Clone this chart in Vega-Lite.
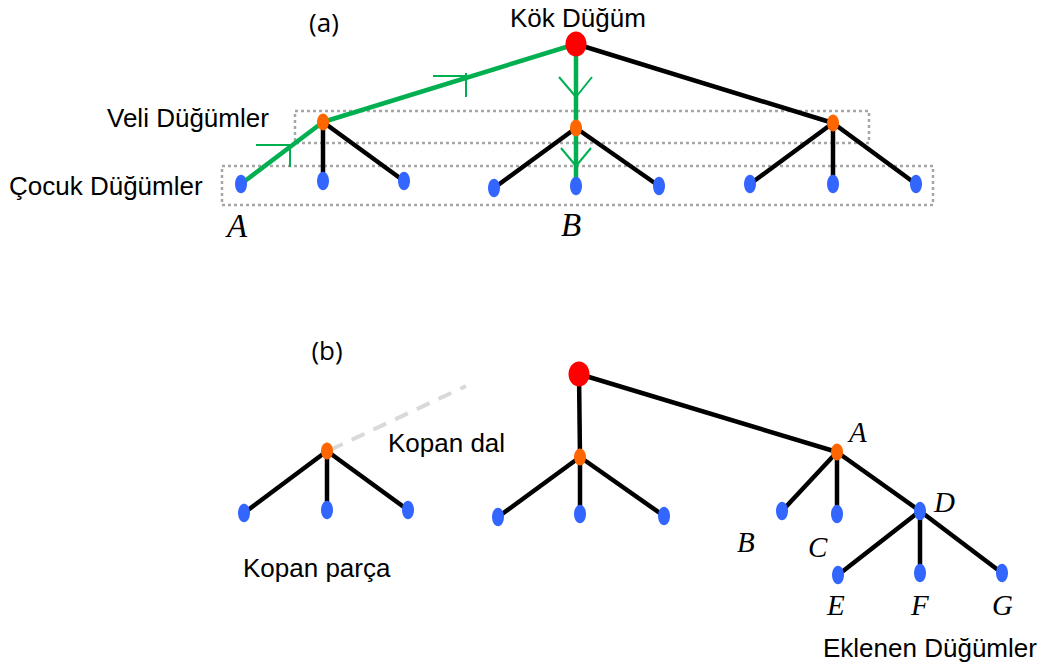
{
  "$schema": "https://vega.github.io/schema/vega-lite/v6.json",
  "width": 1049,
  "height": 669,
  "autosize": {"type": "fit", "contains": "padding"},
  "padding": 0,
  "background": "#ffffff",
  "config": {"view": {"stroke": null}},
  "datasets": {
    "boxes": [
      {"name": "veli", "x": 295, "y": 111, "x2": 869, "y2": 143},
      {"name": "cocuk", "x": 222, "y": 166, "x2": 933, "y2": 205}
    ],
    "edges": [
      {"x": 576, "y": 44, "x2": 833, "y2": 123},
      {"x": 323, "y": 122, "x2": 323, "y2": 181},
      {"x": 323, "y": 122, "x2": 404, "y2": 181},
      {"x": 576, "y": 128, "x2": 494, "y2": 188},
      {"x": 576, "y": 128, "x2": 659, "y2": 186},
      {"x": 833, "y": 123, "x2": 750, "y2": 184},
      {"x": 833, "y": 123, "x2": 833, "y2": 184},
      {"x": 833, "y": 123, "x2": 916, "y2": 184},
      {"x": 579, "y": 374, "x2": 580, "y2": 457},
      {"x": 579, "y": 374, "x2": 837, "y2": 452},
      {"x": 580, "y": 457, "x2": 498, "y2": 517},
      {"x": 580, "y": 457, "x2": 580, "y2": 514},
      {"x": 580, "y": 457, "x2": 664, "y2": 516},
      {"x": 327, "y": 451, "x2": 244, "y2": 513},
      {"x": 327, "y": 451, "x2": 327, "y2": 510},
      {"x": 327, "y": 451, "x2": 408, "y2": 510},
      {"x": 837, "y": 452, "x2": 782, "y2": 511},
      {"x": 837, "y": 452, "x2": 837, "y2": 514},
      {"x": 837, "y": 452, "x2": 920, "y2": 511},
      {"x": 920, "y": 511, "x2": 838, "y2": 575},
      {"x": 920, "y": 511, "x2": 920, "y2": 573},
      {"x": 920, "y": 511, "x2": 1002, "y2": 573}
    ],
    "paths": [
      {"x": 576, "y": 44, "x2": 323, "y2": 122},
      {"x": 323, "y": 122, "x2": 241, "y2": 184},
      {"x": 576, "y": 44, "x2": 576, "y2": 128},
      {"x": 576, "y": 128, "x2": 576, "y2": 186}
    ],
    "arrows": [
      {"x": 433, "y": 76, "x2": 467, "y2": 76},
      {"x": 466, "y": 73, "x2": 466, "y2": 97},
      {"x": 256, "y": 145, "x2": 290, "y2": 145},
      {"x": 290, "y": 145, "x2": 290, "y2": 167},
      {"x": 559, "y": 77, "x2": 576, "y2": 97},
      {"x": 592, "y": 77, "x2": 576, "y2": 97},
      {"x": 561, "y": 148, "x2": 576, "y2": 166},
      {"x": 591, "y": 148, "x2": 576, "y2": 166}
    ],
    "broken": [
      {"x": 330, "y": 450, "x2": 466, "y2": 386}
    ],
    "roots": [
      {"x": 576, "y": 44},
      {"x": 579, "y": 374}
    ],
    "parents": [
      {"x": 323, "y": 122},
      {"x": 576, "y": 128},
      {"x": 833, "y": 123},
      {"x": 327, "y": 451},
      {"x": 580, "y": 457},
      {"x": 837, "y": 452}
    ],
    "leaves": [
      {"x": 241, "y": 184}, {"x": 323, "y": 181}, {"x": 404, "y": 181},
      {"x": 494, "y": 188}, {"x": 576, "y": 186}, {"x": 659, "y": 186},
      {"x": 750, "y": 184}, {"x": 833, "y": 184}, {"x": 916, "y": 184},
      {"x": 244, "y": 513}, {"x": 327, "y": 510}, {"x": 408, "y": 510},
      {"x": 498, "y": 517}, {"x": 580, "y": 514}, {"x": 664, "y": 516},
      {"x": 782, "y": 511}, {"x": 837, "y": 514}, {"x": 920, "y": 511},
      {"x": 838, "y": 575}, {"x": 920, "y": 573}, {"x": 1002, "y": 573}
    ],
    "sansLabels": [
      {"x": 510, "y": 27, "label": "Kök Düğüm"},
      {"x": 107, "y": 127, "label": "Veli Düğümler"},
      {"x": 9, "y": 195, "label": "Çocuk Düğümler"},
      {"x": 388, "y": 452, "label": "Kopan dal"},
      {"x": 243, "y": 577, "label": "Kopan parça"},
      {"x": 823, "y": 657, "label": "Eklenen Düğümler"}
    ],
    "panelLabels": [
      {"x": 324, "y": 32, "label": "(a)"},
      {"x": 327, "y": 360, "label": "(b)"}
    ],
    "letterA": [
      {"x": 227, "y": 237, "label": "A"},
      {"x": 561, "y": 236, "label": "B"}
    ],
    "letterB": [
      {"x": 849, "y": 442, "label": "A"},
      {"x": 934, "y": 512, "label": "D"},
      {"x": 737, "y": 552, "label": "B"},
      {"x": 808, "y": 557, "label": "C"},
      {"x": 827, "y": 615, "label": "E"},
      {"x": 911, "y": 615, "label": "F"},
      {"x": 992, "y": 615, "label": "G"}
    ]
  },
  "encoding": {
    "x": {"field": "x", "type": "quantitative", "scale": {"domain": [0, 1049], "nice": false, "zero": false}, "axis": null},
    "y": {"field": "y", "type": "quantitative", "scale": {"domain": [0, 669], "nice": false, "zero": false, "reverse": true}, "axis": null}
  },
  "layer": [
    {
      "data": {"name": "boxes"},
      "mark": {"type": "rect", "filled": false, "stroke": "#a6a6a6", "strokeWidth": 2.5, "strokeDash": [3, 3]},
      "encoding": {
        "x2": {"field": "x2"},
        "y2": {"field": "y2"}
      }
    },
    {
      "data": {"name": "broken"},
      "mark": {"type": "rule", "stroke": "#d9d9d9", "strokeWidth": 4, "strokeDash": [14, 10]},
      "encoding": {
        "x2": {"field": "x2"},
        "y2": {"field": "y2"}
      }
    },
    {
      "data": {"name": "edges"},
      "mark": {"type": "rule", "stroke": "#000000", "strokeWidth": 4.5, "strokeCap": "butt"},
      "encoding": {
        "x2": {"field": "x2"},
        "y2": {"field": "y2"}
      }
    },
    {
      "data": {"name": "paths"},
      "mark": {"type": "rule", "stroke": "#00b050", "strokeWidth": 4.5, "strokeCap": "butt"},
      "encoding": {
        "x2": {"field": "x2"},
        "y2": {"field": "y2"}
      }
    },
    {
      "data": {"name": "arrows"},
      "mark": {"type": "rule", "stroke": "#00b050", "strokeWidth": 2},
      "encoding": {
        "x2": {"field": "x2"},
        "y2": {"field": "y2"}
      }
    },
    {
      "data": {"name": "roots"},
      "mark": {"type": "point", "filled": true, "fill": "#ff0000", "opacity": 1, "strokeWidth": 0, "size": 441,
        "shape": "M0,-1.2A1,1.2,0,1,1,0,1.2A1,1.2,0,1,1,0,-1.2"}
    },
    {
      "data": {"name": "parents"},
      "mark": {"type": "point", "filled": true, "fill": "#ff6600", "opacity": 1, "strokeWidth": 0, "size": 144,
        "shape": "M0,-1.4A1,1.4,0,1,1,0,1.4A1,1.4,0,1,1,0,-1.4"}
    },
    {
      "data": {"name": "leaves"},
      "mark": {"type": "point", "filled": true, "fill": "#3366ff", "opacity": 1, "strokeWidth": 0, "size": 144,
        "shape": "M0,-1.55A1,1.55,0,1,1,0,1.55A1,1.55,0,1,1,0,-1.55"}
    },
    {
      "data": {"name": "sansLabels"},
      "mark": {"type": "text", "font": "Liberation Sans", "fontSize": 26, "align": "left", "baseline": "alphabetic", "color": "#000000"},
      "encoding": {"text": {"field": "label"}}
    },
    {
      "data": {"name": "panelLabels"},
      "mark": {"type": "text", "font": "Open Sans", "fontSize": 26, "align": "center", "baseline": "alphabetic", "color": "#000000"},
      "encoding": {"text": {"field": "label"}}
    },
    {
      "data": {"name": "letterA"},
      "mark": {"type": "text", "font": "Liberation Serif", "fontStyle": "italic", "fontSize": 33, "align": "left", "baseline": "alphabetic", "color": "#000000"},
      "encoding": {"text": {"field": "label"}}
    },
    {
      "data": {"name": "letterB"},
      "mark": {"type": "text", "font": "Liberation Serif", "fontStyle": "italic", "fontSize": 29, "align": "left", "baseline": "alphabetic", "color": "#000000"},
      "encoding": {"text": {"field": "label"}}
    }
  ]
}
